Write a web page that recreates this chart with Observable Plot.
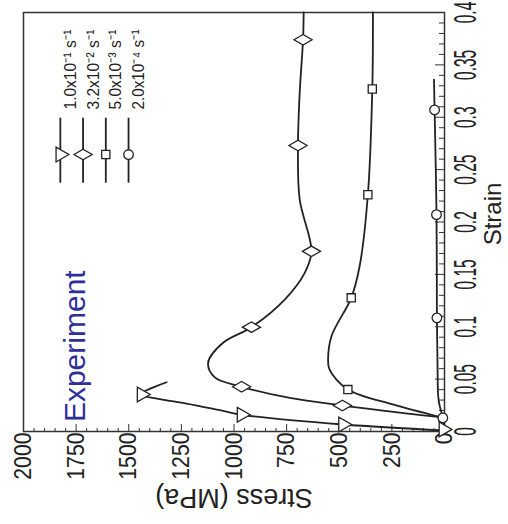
<!DOCTYPE html>
<html><head><meta charset="utf-8">
<script src="https://cdn.jsdelivr.net/npm/d3@7"></script>
<script src="https://cdn.jsdelivr.net/npm/@observablehq/plot@0.6"></script>
<style>
html,body{margin:0;padding:0;background:#fff;overflow:hidden;width:508px;height:524px;}
#wrap{position:absolute;left:0;top:0;width:524px;height:508px;transform-origin:0 0;transform:translate(0px,524px) rotate(-90deg);}
</style></head><body><div id="wrap"></div>
<script>
// Series (strain rates)
const seriesLabels = ["1.0x10⁻¹ s⁻¹", "3.2x10⁻² s⁻¹", "5.0x10⁻³ s⁻¹", "2.0x10⁻⁴ s⁻¹"];
const seriesSymbols = ["triangle", "diamond", "square", "circle"];

// Curves: strain / stress (MPa)
const strainA = [0.001, 0.0067, 0.016, 0.0203, 0.0267, 0.031, 0.0353, 0.047];
const stressA = [0, 482, 964, 1067, 1225, 1352, 1445, 1320];
const strainB = [0.0137, 0.0248, 0.032, 0.0427, 0.0516, 0.0656, 0.0847, 0.0996, 0.126, 0.1515, 0.172, 0.2215, 0.273, 0.323, 0.374, 0.4];
const stressB = [20, 485, 735, 964, 1091, 1123, 1052, 917, 759, 664, 632, 688, 696, 688, 672, 669];
const strainC = [0.0137, 0.0258, 0.040, 0.059, 0.0687, 0.091, 0.1276, 0.158, 0.226, 0.327, 0.4];
const stressC = [20, 245, 459, 546, 553, 537, 443, 403, 364, 343, 340];
const strainD = [0.005, 0.013, 0.03, 0.06, 0.1085, 0.207, 0.307, 0.336];
const stressD = [0, 8, 28, 33, 36, 38, 47, 50];

// Marker positions
const mStrainA = [0.002, 0.0067, 0.016, 0.0353];
const mStressA = [5, 482, 964, 1439];
const mStrainB = [0.0248, 0.0427, 0.0996, 0.172, 0.273, 0.374];
const mStressB = [485, 964, 917, 632, 696, 672];
const mStrainC = [0.040, 0.1276, 0.226, 0.327];
const mStressC = [459, 443, 364, 343];
const mStrainD = [0.013, 0.1085, 0.207, 0.307];
const mStressD = [8, 36, 38, 47];

// Axis ticks
const strainTicks = [0, 0.05, 0.1, 0.15, 0.2, 0.25, 0.3, 0.35, 0.4];
const strainMinor = [0.01,0.02,0.03,0.04,0.06,0.07,0.08,0.09,0.11,0.12,0.13,0.14,0.16,0.17,0.18,0.19,0.21,0.22,0.23,0.24,0.26,0.27,0.28,0.29,0.31,0.32,0.33,0.34,0.36,0.37,0.38,0.39];
const stressTicks = [0, 250, 500, 750, 1000, 1250, 1500, 1750, 2000];
const stressMinor = [50,100,150,200,300,350,400,450,550,600,650,700,800,850,900,950,1050,1100,1150,1200,1300,1350,1400,1450,1550,1600,1650,1700,1800,1850,1900,1950];

const xLabel = "Strain";
const yLabel = "Stress (MPa)";
const annotation = "Experiment";

const curveStrain = [strainA, strainB, strainC, strainD];
const curveStress = [stressA, stressB, stressC, stressD];
const markStrain = [mStrainA, mStrainB, mStrainC, mStrainD];
const markStress = [mStressA, mStressB, mStressC, mStressD];

const curves = seriesLabels.flatMap((s, i) => curveStrain[i].map((x, j) => ({series: s, strain: x, stress: curveStress[i][j]})));
const markers = seriesLabels.map((s, i) => markStrain[i].map((x, j) => ({series: s, strain: x, stress: markStress[i][j]})));

const ink = "#222";
const font = "'Liberation Sans', Arial, Helvetica, sans-serif";
const legendRows = seriesLabels.map((s, i) => ({series: s, stress: 1825 - i * 108}));
const symRotate = [180, 0, 0, 0];
const symR = [5.5, 5.5, 4.6, 4.8];

const marks = [
  Plot.frame({stroke: "#333", strokeWidth: 1.5}),
  // inward ticks
  Plot.axisX({ticks: strainTicks, tickSize: 9, dy: -9, tickFormat: () => "", label: null, stroke: "#333"}),
  Plot.axisX({ticks: strainMinor, tickSize: 5, dy: -5, tickFormat: () => "", label: null, stroke: "#333"}),
  Plot.axisY({ticks: stressTicks, tickSize: 8, dx: 8, tickFormat: () => "", label: null, stroke: "#333"}),
  Plot.axisY({ticks: stressMinor, tickSize: 4, dx: 4, tickFormat: () => "", label: null, stroke: "#333"}),
  // tick labels
  Plot.axisX({ticks: strainTicks, tickSize: 0, tickPadding: 9, fontSize: 31, tickFormat: d => String(d), label: null, fill: ink}),
  Plot.axisY({ticks: stressTicks, tickSize: 0, tickPadding: 1, fontSize: 24, tickFormat: d => String(d), label: null, fill: ink}),
  Plot.text([xLabel], {text: d => d, frameAnchor: "bottom", dy: 56, dx: 8, fontSize: 24, fill: ink}),
  Plot.text([yLabel], {text: d => d, x: () => 0, y: () => 1000, rotate: -90, dx: -66, textAnchor: "middle", fontSize: 27, fill: ink}),
  // curves
  Plot.line(curves, {x: "strain", y: "stress", z: "series", curve: "catmull-rom", stroke: ink, strokeWidth: 1.8}),
  ...markers.map((m, i) => Plot.dot(m, {x: "strain", y: "stress", symbol: () => seriesSymbols[i], rotate: symRotate[i], r: symR[i], fill: "white", stroke: ink, strokeWidth: 1.3})),
  // legend
  Plot.ruleY(legendRows, {y: "stress", x1: 0.238, x2: 0.300, stroke: ink, strokeWidth: 1.8}),
  ...legendRows.map((row, i) => Plot.dot([row], {x: () => 0.2644, y: "stress", symbol: () => seriesSymbols[i], rotate: symRotate[i], r: symR[i], fill: "white", stroke: ink, strokeWidth: 1.3})),
  Plot.text(legendRows, {x: () => 0.3074, y: "stress", text: "series", textAnchor: "start", dy: 10, fontSize: 17, fill: ink}),
  // annotation
  Plot.text([annotation], {text: d => d, x: () => 0.009, y: () => 1709, textAnchor: "start", lineAnchor: "bottom", fontSize: 30, fill: "#2f2f9a"})
];

const chart = Plot.plot({
  width: 524, height: 508,
  marginLeft: 92, marginRight: 13, marginTop: 23, marginBottom: 64,
  style: {fontFamily: font, background: "white"},
  x: {domain: [0, 0.4], label: null},
  y: {domain: [0, 2000], label: null},
  symbol: {legend: false},
  marks
});

// condense tick label glyphs like the reference (anchor handled explicitly)
function units(t) { let u = 0; for (const c of t) u += (c === ".") ? 1 : 2; return u; }
function condense(t, L, frac) {
  const x0 = +(t.getAttribute("x") || 0);
  t.setAttribute("textLength", L);
  t.setAttribute("lengthAdjust", "spacingAndGlyphs");
  t.setAttribute("text-anchor", "start");
  t.style.textAnchor = "start";
  t.setAttribute("x", x0 - L * frac);
}
chart.querySelectorAll('[aria-label="x-axis tick label"] text').forEach(t => {
  const s = t.textContent; if (!s) return;
  condense(t, units(s) * 4.3, 0.5);
});
chart.querySelectorAll('[aria-label="y-axis tick label"] text').forEach(t => {
  const s = t.textContent; if (!s) return;
  condense(t, units(s) * 5.9, 1);
});
chart.querySelectorAll('[aria-label="text"] text').forEach(t => {
  if (seriesLabels.includes(t.textContent)) { t.setAttribute("textLength", 80); t.setAttribute("lengthAdjust", "spacingAndGlyphs"); }
});
document.getElementById("wrap").appendChild(chart);
</script></body></html>
